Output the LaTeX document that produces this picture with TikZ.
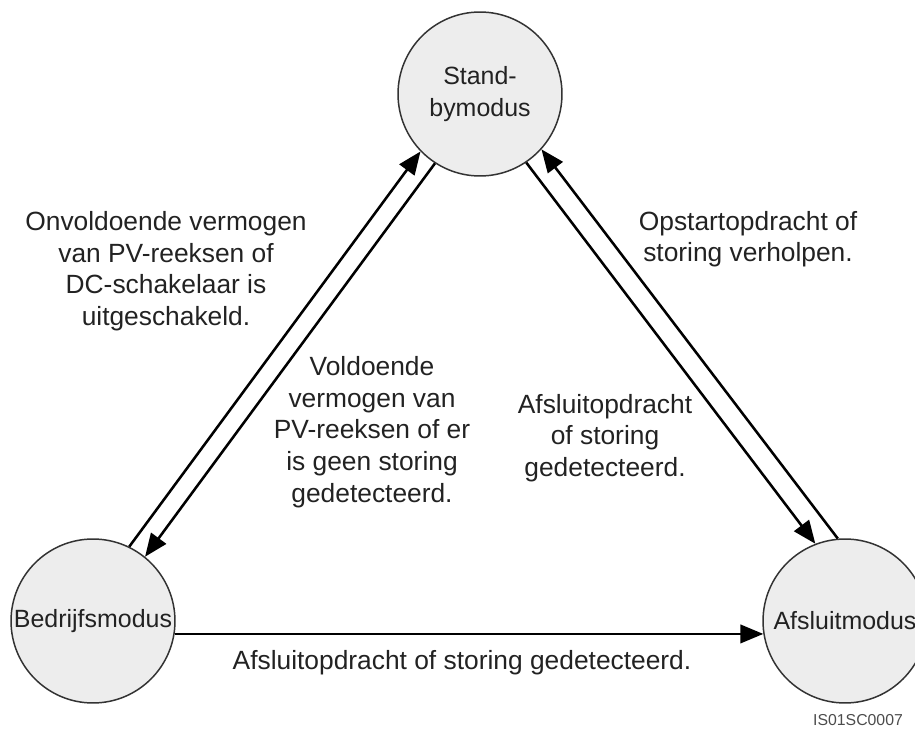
\documentclass[tikz,border=0pt]{standalone}
\usepackage{fontspec}
\setmainfont{Liberation Sans}
\usetikzlibrary{arrows.meta}

\definecolor{statefill}{HTML}{EDEDED}
\definecolor{stateline}{HTML}{333333}
\definecolor{txt}{HTML}{222222}

\begin{document}
\begin{tikzpicture}[
    x=0.02cm,y=-0.02cm,
    state/.style={circle, draw=stateline, line width=0.85pt, fill=statefill,
                  minimum size=3.28cm, inner sep=0pt, align=center, text=txt,
                  font=\fontsize{14.2}{18}\selectfont},
    arrow/.style={-{Triangle[length=0.46cm, width=0.37cm]}, line width=1.45pt},
    note/.style={align=center, text=txt, font=\fontsize{15}{18}\selectfont}
]
\useasboundingbox (0,0) rectangle (915,729);
\clip (0,0) rectangle (915,729);

\node[state] (standby) at (480,94) {Stand-\\bymodus};
\node[state] (bedrijf) at (93,621) {Bedrijfsmodus};
\node[state] (afsluit) at (845,621) {Afsluitmodus};

\draw[arrow] (bedrijf.64) -- (standby.224);
\draw[arrow] (standby.237) -- (bedrijf.51);
\draw[arrow] (standby.304) -- (afsluit.111);
\draw[arrow] (afsluit.95) -- (standby.318);
\draw[arrow] (bedrijf.-9) -- (afsluit.189);

\node[note] (insuff) at (166,271) {Onvoldoende vermogen\\van PV-reeksen of\\DC-schakelaar is\\uitgeschakeld.};
\node[note] (suff) at (372,432) {Voldoende\\vermogen van\\PV-reeksen of er\\is geen storing\\gedetecteerd.};
\node[note] (shutcmd) at (605,438) {Afsluitopdracht\\of storing\\gedetecteerd.};
\node[note] (startcmd) at (748,239) {Opstartopdracht of\\storing verholpen.};
\node[note] (shutrun) at (462,663) {Afsluitopdracht of storing gedetecteerd.};

\node[text=black!70, font=\fontsize{9}{11}\selectfont] (figid) at (858,720) {IS01SC0007};
\end{tikzpicture}
\end{document}
